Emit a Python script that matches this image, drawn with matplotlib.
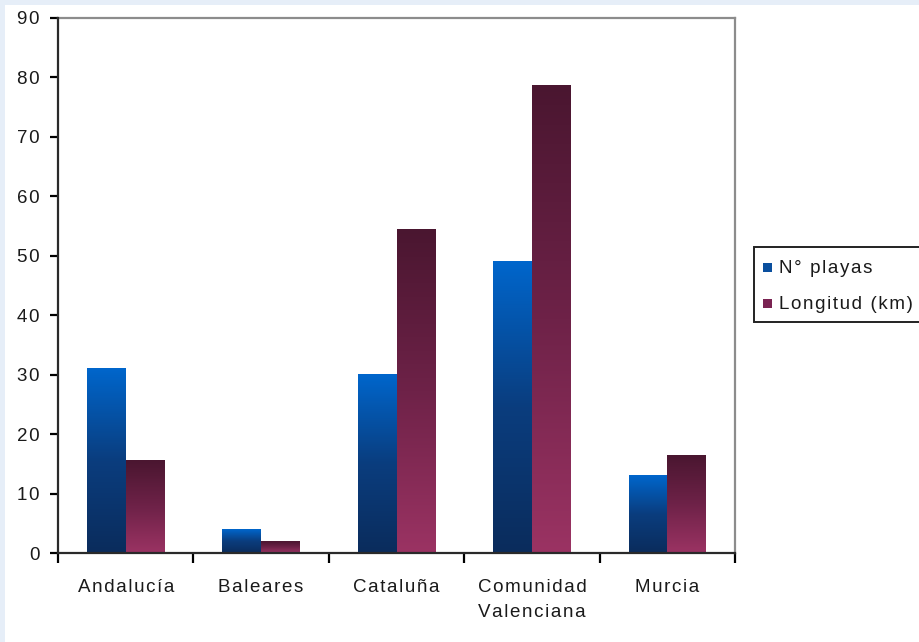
import matplotlib.pyplot as plt
import numpy as np
from matplotlib.colors import LinearSegmentedColormap
from matplotlib.patches import Rectangle

plt.rcParams['font.family'] = ['Liberation Sans', 'DejaVu Sans']

# data
regions = ["Andalucía", "Baleares", "Cataluña", "Comunidad\nValenciana", "Murcia"]
playas = [31, 4, 30, 49, 13]
longitud = [15.5, 2, 54.5, 78.6, 16.4]
series_names = ["N° playas", "Longitud (km)"]

# gradients: (bottom, top)
blue_grad = ["#0b2c5c", "#0a3d7e", "#0066cc"]
maroon_grad = ["#9b3363", "#6e2248", "#4a1630"]
legend_colors = ["#0a4f9e", "#7a2352"]


def spaced(s):
    # Excel renders the labels with loose letter spacing
    return "\n".join("\u200a".join(line) for line in s.split("\n"))


def main():
    fig = plt.figure(figsize=(9.19, 6.42), dpi=100)
    fig.patch.set_facecolor("#e6eef8")
    # white chart area, thin light-blue strip on top and left
    fig.patches.append(Rectangle((5 / 919, 0), 1, 1 - 5 / 642, transform=fig.transFigure,
                                 facecolor="white", edgecolor="none", zorder=-10))

    ax = fig.add_axes([58 / 919, 89 / 642, 677 / 919, 535 / 642])
    ax.set_facecolor("white")

    x = np.arange(len(regions))
    w = 1 / 3.5
    bars1 = ax.bar(x - w / 2, playas, w, facecolor="none", edgecolor="none")
    bars2 = ax.bar(x + w / 2, longitud, w, facecolor="none", edgecolor="none")

    cmaps = [LinearSegmentedColormap.from_list("b", blue_grad),
             LinearSegmentedColormap.from_list("m", maroon_grad)]
    grad = np.linspace(0, 1, 256).reshape(-1, 1)
    for bars, cm in zip([bars1, bars2], cmaps):
        for r in bars:
            x0, h, bw = r.get_x(), r.get_height(), r.get_width()
            ax.imshow(grad, extent=[x0, x0 + bw, 0, h], origin="lower",
                      cmap=cm, aspect="auto", zorder=2, interpolation="bilinear")

    ax.set_xlim(-0.5, len(regions) - 0.5)
    ax.set_ylim(0, 90)
    ax.set_yticks(np.arange(0, 91, 10))
    ax.set_yticklabels([spaced(str(v)) for v in range(0, 91, 10)])

    # category labels between boundary ticks
    ax.set_xticks(np.arange(len(regions) + 1) - 0.5)
    ax.set_xticklabels([])
    ax.set_xticks(x, minor=True)
    ax.set_xticklabels([spaced(r) for r in regions], minor=True, fontsize=13.5,
                       color="#1a1a1a", linespacing=1.55)
    ax.tick_params(axis="x", which="minor", length=0, pad=19)
    ax.tick_params(axis="x", which="major", length=7, width=1.6, direction="out")
    ax.tick_params(axis="y", length=6, width=1.6, direction="out", pad=7,
                   labelsize=13.5, labelcolor="#1a1a1a")

    for s in ["left", "bottom"]:
        ax.spines[s].set_color("#2a2a2a")
        ax.spines[s].set_linewidth(1.6)
        ax.spines[s].set_zorder(3)
    for s in ["top", "right"]:
        ax.spines[s].set_color("#8c8c8c")
        ax.spines[s].set_linewidth(1.6)

    # legend box, cut off at the right edge like the reference
    fig.patches.append(Rectangle((754 / 919, 1 - 322 / 642), 200 / 919, 75 / 642,
                                 transform=fig.transFigure, facecolor="white",
                                 edgecolor="#222222", linewidth=1.4, zorder=1))
    for i, (name, c) in enumerate(zip(series_names, legend_colors)):
        yc = 1 - (268 + i * 36) / 642
        fig.patches.append(Rectangle((763 / 919, yc - 4 / 642), 9 / 919, 9 / 642,
                                     transform=fig.transFigure, facecolor=c,
                                     edgecolor="none", zorder=2))
        fig.text(779 / 919, yc, spaced(name), fontsize=13.5, color="#1a1a1a", va="center")

    fig.savefig("out.png", dpi=100)


if __name__ == "__main__":
    main()
